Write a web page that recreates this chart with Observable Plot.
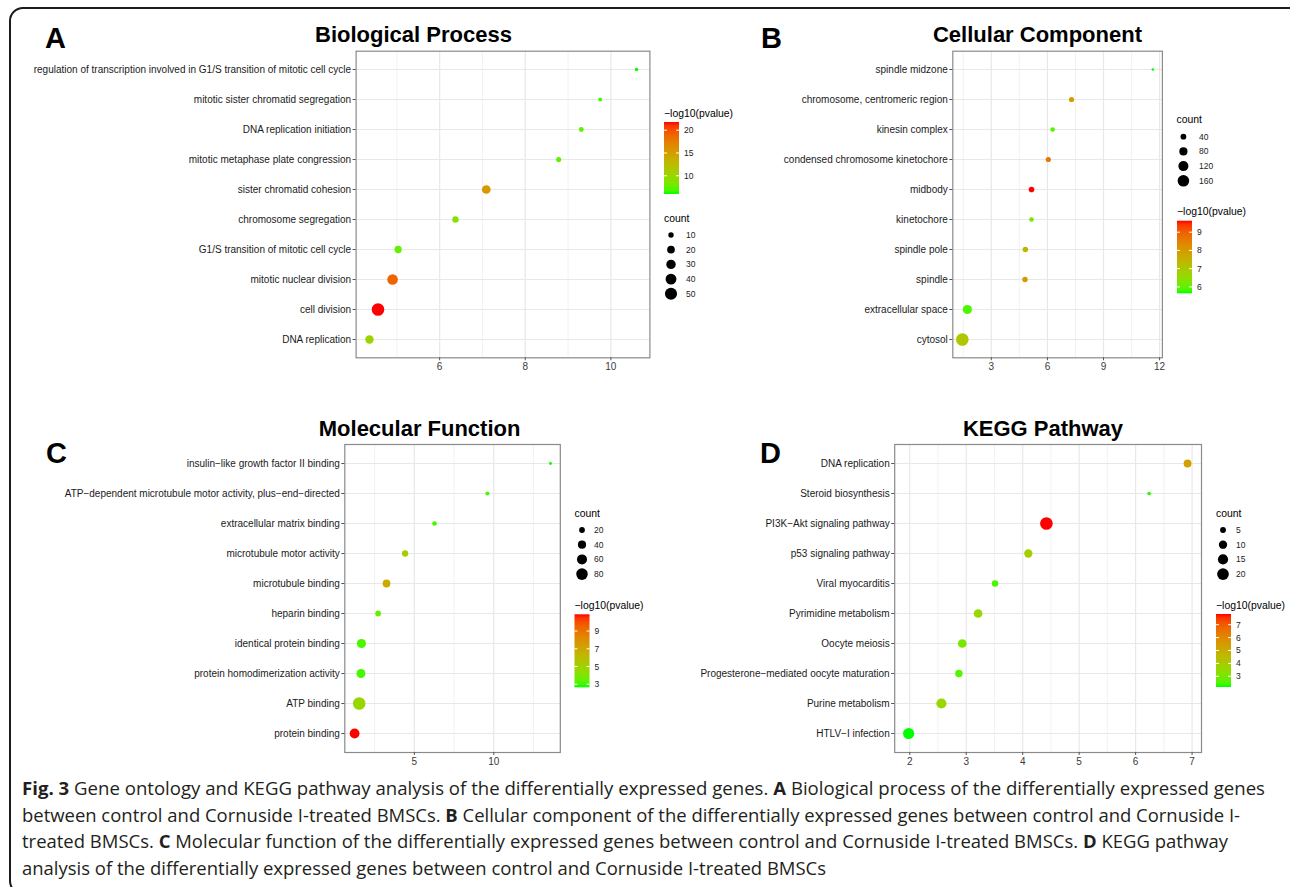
<!DOCTYPE html>
<html><head><meta charset="utf-8">
<script src="https://cdn.jsdelivr.net/npm/d3@7"></script>
<script src="https://cdn.jsdelivr.net/npm/@observablehq/plot@0.6"></script>
<style>
html,body{margin:0;padding:0;background:#fff;}
#fig{position:relative;width:1290px;height:887px;overflow:hidden;background:#fff;}
#fig > svg{position:absolute;left:0;top:0;}
</style></head><body><div id="fig"></div>
<script>
// ---------- A: Biological Process ----------
const bpTerms = ["regulation of transcription involved in G1/S transition of mitotic cell cycle","mitotic sister chromatid segregation","DNA replication initiation","mitotic metaphase plate congression","sister chromatid cohesion","chromosome segregation","G1/S transition of mitotic cell cycle","mitotic nuclear division","cell division","DNA replication"];
const bpX     = [10.60, 9.75, 9.31, 8.78, 7.09, 6.37, 5.03, 4.90, 4.56, 4.36];
const bpCount = [4, 5, 8, 9, 26, 14, 18, 38, 54, 24];
const bpLogP  = [6.0, 6.6, 7.2, 7.6, 15.5, 9.2, 7.6, 19.0, 21.8, 10.3];
const bpXTicks = [6, 8, 10];
const bpXMinor = [5, 7, 9];
const bpColorTicks = [10, 15, 20];
const bpCountTicks = [10, 20, 30, 40, 50];

// ---------- B: Cellular Component ----------
const ccTerms = ["spindle midzone","chromosome, centromeric region","kinesin complex","condensed chromosome kinetochore","midbody","kinetochore","spindle pole","spindle","extracellular space","cytosol"];
const ccX     = [11.64, 7.29, 6.28, 6.05, 5.15, 5.15, 4.82, 4.80, 1.72, 1.45];
const ccCount = [8, 32, 25, 32, 38, 27, 36, 36, 100, 190];
const ccLogP  = [5.65, 8.0, 5.9, 8.6, 9.63, 6.25, 7.45, 8.05, 5.85, 7.05];
const ccXTicks = [3, 6, 9, 12];
const ccXMinor = [1.5, 4.5, 7.5, 10.5];
const ccColorTicks = [6, 7, 8, 9];
const ccCountTicks = [40, 80, 120, 160];

// ---------- C: Molecular Function ----------
const mfTerms = ["insulin\u2212like growth factor II binding","ATP\u2212dependent microtubule motor activity, plus\u2212end\u2212directed","extracellular matrix binding","microtubule motor activity","microtubule binding","heparin binding","identical protein binding","protein homodimerization activity","ATP binding","protein binding"];
const mfX     = [13.57, 9.60, 6.27, 4.42, 3.25, 2.72, 1.67, 1.64, 1.53, 1.24];
const mfCount = [5, 10, 13, 24, 36, 20, 50, 48, 95, 58];
const mfLogP  = [2.66, 3.1, 3.0, 5.1, 6.8, 3.5, 3.1, 3.05, 4.7, 10.89];
const mfXTicks = [5, 10];
const mfXMinor = [2.5, 7.5, 12.5];
const mfColorTicks = [3, 5, 7, 9];
const mfCountTicks = [20, 40, 60, 80];

// ---------- D: KEGG Pathway ----------
const kgTerms = ["DNA replication","Steroid biosynthesis","PI3K\u2212Akt signaling pathway","p53 signaling pathway","Viral myocarditis","Pyrimidine metabolism","Oocyte meiosis","Progesterone\u2212mediated oocyte maturation","Purine metabolism","HTLV\u2212I infection"];
const kgX     = [6.92, 6.24, 4.42, 4.10, 3.51, 3.21, 2.93, 2.87, 2.56, 1.98];
const kgCount = [9, 2, 23, 10, 6, 11, 11, 8, 15, 18];
const kgLogP  = [5.3, 2.3, 7.83, 3.9, 2.45, 3.6, 3.0, 2.55, 3.6, 2.17];
const kgXTicks = [2, 3, 4, 5, 6, 7];
const kgXMinor = [2.5, 3.5, 4.5, 5.5, 6.5];
const kgColorTicks = [3, 4, 5, 6, 7];
const kgCountTicks = [5, 10, 15, 20];

const panelTitles = ["Biological Process", "Cellular Component", "Molecular Function", "KEGG Pathway"];
const panelLetters = ["A", "B", "C", "D"];
const colorTitle = "\u2212log10(pvalue)";
const sizeTitle = "count";
const captionLines = [
  [["Fig. 3", true], [" Gene ontology and KEGG pathway analysis of the differentially expressed genes. ", false], ["A", true], [" Biological process of the differentially expressed genes", false]],
  [["between control and Cornuside I-treated BMSCs. ", false], ["B", true], [" Cellular component of the differentially expressed genes between control and Cornuside I-", false]],
  [["treated BMSCs. ", false], ["C", true], [" Molecular function of the differentially expressed genes between control and Cornuside I-treated BMSCs. ", false], ["D", true], [" KEGG pathway", false]],
  [["analysis of the differentially expressed genes between control and Cornuside I-treated BMSCs", false]]
];

const W = 1290, H = 887, RMAX = 6.3;
const FONT = "'Liberation Sans', Arial, Helvetica, sans-serif";
const fig = document.getElementById("fig");

function panel(terms, xs, counts, logps, xMajor, xMinor, frame) {
  const [l, r, t, b] = frame;
  const data = terms.map((term, i) => ({term, x: xs[i], count: counts[i], logp: logps[i]}));
  const [lo, hi] = d3.extent(xs);
  const pad = (hi - lo) * 0.05;
  const p = Plot.plot({
    width: W, height: H,
    marginLeft: l, marginRight: W - r, marginTop: t, marginBottom: H - b,
    style: {background: "transparent", fontFamily: FONT, fontSize: "10px", overflow: "visible"},
    x: {domain: [lo - pad, hi + pad], label: null},
    y: {type: "point", domain: terms, padding: 0.6, label: null},
    r: {type: "sqrt", domain: [0, d3.max(counts)], range: [0, RMAX]},
    color: {type: "linear", domain: d3.extent(logps), range: ["#00ff00", "#ff0000"], interpolate: d3.interpolateLab},
    marks: [
      Plot.gridX(xMinor, {stroke: "#ededed", strokeOpacity: 1, strokeWidth: 0.7}),
      Plot.gridX(xMajor, {stroke: "#e8e8e8", strokeOpacity: 1, strokeWidth: 1.2}),
      Plot.gridY(terms, {stroke: "#e8e8e8", strokeOpacity: 1, strokeWidth: 1.2}),
      Plot.dot(data, {x: "x", y: "term", r: "count", fill: "logp"}),
      Plot.frame({stroke: "#8a8a8a", strokeWidth: 1.2}),
      Plot.axisY({tickSize: 3, tickPadding: 2, fontSize: 10, stroke: "#555", fill: "#1a1a1a", label: null}),
      Plot.axisX(xMajor, {tickSize: 3, tickPadding: 2, fontSize: 10, stroke: "#555", fill: "#3a3a3a", label: null})
    ]
  });
  fig.appendChild(p);
  return p;
}

const pA = panel(bpTerms, bpX, bpCount, bpLogP, bpXTicks, bpXMinor, [355.6, 649.4, 50.7, 357.3]);
const pB = panel(ccTerms, ccX, ccCount, ccLogP, ccXTicks, ccXMinor, [952.3, 1161.9, 50.7, 357.3]);
const pC = panel(mfTerms, mfX, mfCount, mfLogP, mfXTicks, mfXMinor, [344.3, 559.8, 444, 752]);
const pD = panel(kgTerms, kgX, kgCount, kgLogP, kgXTicks, kgXMinor, [894.2, 1201, 444, 752]);

// overlay
const svg = d3.select(fig).append("svg").attr("width", W).attr("height", H)
  .style("font-family", FONT);
svg.append("rect").attr("x", 10).attr("y", 8).attr("width", 1296).attr("height", 886)
  .attr("rx", 13).attr("fill", "none").attr("stroke", "#1c1c1c").attr("stroke-width", 2);

const titlePos = [[413.5, 42], [1037.5, 42], [419.6, 436], [1043, 436]];
const letterPos = [[45, 48], [761, 48], [46, 463], [760, 463]];
panelTitles.forEach((t, i) => svg.append("text").attr("x", titlePos[i][0]).attr("y", titlePos[i][1])
  .attr("text-anchor", "middle").attr("font-size", 22).attr("font-weight", "bold").attr("fill", "#000").text(t));
panelLetters.forEach((t, i) => svg.append("text").attr("x", letterPos[i][0]).attr("y", letterPos[i][1])
  .attr("font-size", 29).attr("font-weight", "bold").attr("fill", "#000").text(t));

function colorLegend(p, id, x, titleY, top, bottom, ticks) {
  const cs = p.scale("color");
  const [d0, d1] = cs.domain;
  const grad = svg.append("defs").append("linearGradient").attr("id", id)
    .attr("x1", 0).attr("y1", 1).attr("x2", 0).attr("y2", 0);
  d3.range(0, 21).forEach(i => grad.append("stop").attr("offset", i / 20)
    .attr("stop-color", cs.apply(d0 + (d1 - d0) * i / 20)));
  svg.append("text").attr("x", x).attr("y", titleY).attr("dy", "0.35em").attr("font-size", 10.4)
    .attr("fill", "#000").text(colorTitle);
  const bw = 15;
  svg.append("rect").attr("x", x).attr("y", top).attr("width", bw).attr("height", bottom - top)
    .attr("fill", `url(#${id})`);
  const yv = v => bottom - (v - d0) / (d1 - d0) * (bottom - top);
  ticks.forEach(v => {
    const y = yv(v);
    svg.append("line").attr("x1", x).attr("x2", x + 3).attr("y1", y).attr("y2", y).attr("stroke", "#fff").attr("stroke-width", 1);
    svg.append("line").attr("x1", x + bw - 3).attr("x2", x + bw).attr("y1", y).attr("y2", y).attr("stroke", "#fff").attr("stroke-width", 1);
    svg.append("text").attr("x", x + bw + 5).attr("y", y).attr("dy", "0.35em").attr("font-size", 8.5)
      .attr("fill", "#222").text(v);
  });
}
function sizeLegend(p, x, titleY, dotX, firstY, labelX, ticks) {
  const rs = p.scale("r");
  svg.append("text").attr("x", x).attr("y", titleY).attr("dy", "0.35em").attr("font-size", 10.4)
    .attr("fill", "#000").text(sizeTitle);
  ticks.forEach((v, i) => {
    const y = firstY + i * 14.7;
    svg.append("circle").attr("cx", dotX).attr("cy", y).attr("r", rs.apply(v)).attr("fill", "#000");
    svg.append("text").attr("x", labelX).attr("y", y).attr("dy", "0.35em").attr("font-size", 8.5)
      .attr("fill", "#222").text(v);
  });
}
colorLegend(pA, "gA", 664, 113.3, 122, 194, bpColorTicks);
sizeLegend(pA, 664, 218.3, 671, 235, 686, bpCountTicks);
sizeLegend(pB, 1176.5, 119.3, 1183.4, 136.7, 1199, ccCountTicks);
colorLegend(pB, "gB", 1177, 211.7, 220.7, 293.3, ccColorTicks);
sizeLegend(pC, 574.5, 513.3, 582, 530, 594, mfCountTicks);
colorLegend(pC, "gC", 574.5, 605, 614.3, 687.3, mfColorTicks);
sizeLegend(pD, 1216, 513.3, 1223, 530, 1236, kgCountTicks);
colorLegend(pD, "gD", 1216, 605, 614, 687, kgColorTicks);

// caption
const capY = [795, 821.5, 848, 874.5];
const capW = [1243, 1218, 1206, 804];
captionLines.forEach((segs, i) => {
  const t = svg.append("text").attr("x", 22).attr("y", capY[i])
    .attr("font-family", "'Open Sans', 'Noto Sans', sans-serif").attr("font-size", 18)
    .attr("fill", "#231f20").attr("textLength", capW[i]).attr("lengthAdjust", "spacingAndGlyphs");
  segs.forEach(([s, b]) => t.append("tspan").attr("font-weight", b ? "bold" : "normal").text(s));
});
</script></body></html>
